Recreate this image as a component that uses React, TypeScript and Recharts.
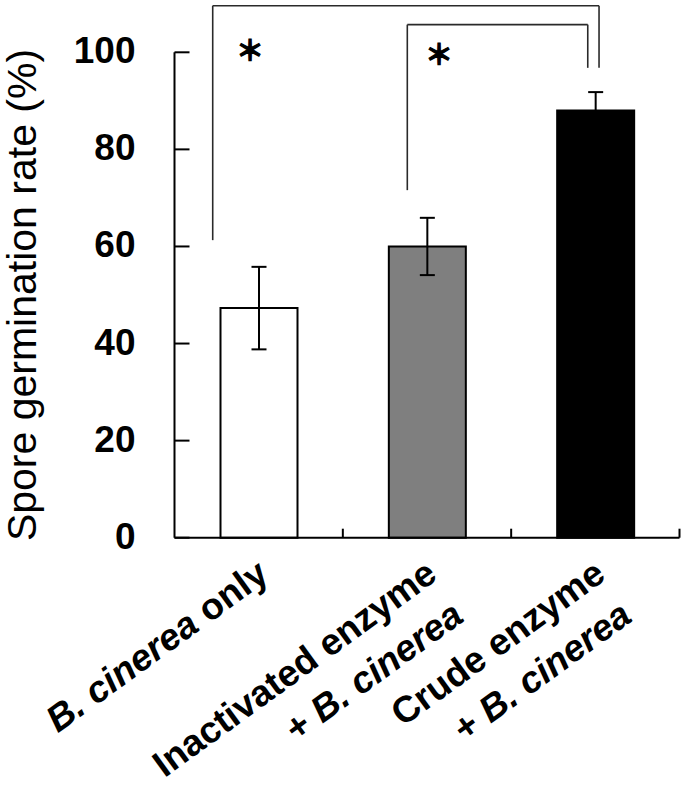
import React from 'react';
import { BarChart, Bar, XAxis, YAxis, ErrorBar, Cell, ReferenceLine, ReferenceDot } from 'recharts';

// ---------- data ----------
const categories = ['B. cinerea only', 'Inactivated enzyme + B. cinerea', 'Crude enzyme + B. cinerea'];
const labelLine1 = ['B. cinerea only', 'Inactivated enzyme', 'Crude enzyme'];
const labelLine2 = ['', '+ B. cinerea', '+ B. cinerea'];
const germinationRate = [47.3, 60.0, 88.0];
const rateError = [8.5, 5.9, 3.8];
const categoryPosition = [0.5, 1.5, 2.5];
const yTicks = [0, 20, 40, 60, 80, 100];
const yAxisTitle = 'Spore germination rate (%)';
const italicPart = 'B. cinerea';

// significance annotations, in (category position, % value) units
const bracketOuter = { xLeft: 0.227, xRight: 2.522, yTop: 109.6, yLeftEnd: 61.3, yRightEnd: 96.8 };
const bracketInner = { xLeft: 1.383, xRight: 2.455, yTop: 105.7, yLeftEnd: 71.6, yRightEnd: 96.8 };
const starLabels = ['*', '*'];
const starX = [0.449, 1.571];
const starY = [100.7, 99.9];

// ---------- styles / layout ----------
const BAR_FILLS = ['#ffffff', '#7f7f7f', '#000000'];
const W = 685;
const H = 785;
const MARGIN = { top: 52.3, right: 5.5, bottom: 7, left: 74.5 };
const Y_AXIS_W = 100;
const PLOT_LEFT = MARGIN.left + Y_AXIS_W;
const PLOT_W = W - PLOT_LEFT - MARGIN.right;
const X_AXIS_H = 240.3;
const FONT = '"Liberation Sans", Arial, Helvetica, sans-serif';

const data = categories.map((name, i) => ({
  name,
  pos: categoryPosition[i],
  value: germinationRate[i],
  err: rateError[i],
}));

const rich = (s: string) => {
  if (!s) return null;
  const parts = s.split(italicPart);
  const out: React.ReactNode[] = [];
  parts.forEach((p, i) => {
    if (p) out.push(<tspan key={'p' + i}>{p}</tspan>);
    if (i < parts.length - 1) out.push(<tspan key={'i' + i} fontStyle="italic">{italicPart}</tspan>);
  });
  return out;
};

const XTick = (props: any) => {
  const { x, y, index } = props;
  const band = PLOT_W / categories.length;
  const bx = x + band / 2;
  return (
    <g>
      <line x1={bx} x2={bx} y1={y} y2={y - 9} stroke="#000" strokeWidth={2} />
      <g transform={`translate(${x + 12},${y + 41}) rotate(-36)`}>
        <text x={0} y={0} textAnchor="end" fontFamily={FONT} fontWeight="bold" fontSize={37} fill="#000">
          {rich(labelLine1[index])}
        </text>
        {labelLine2[index] ? (
          <text x={-3} y={49} textAnchor="end" fontFamily={FONT} fontWeight="bold" fontSize={37} fill="#000">
            {rich(labelLine2[index])}
          </text>
        ) : null}
      </g>
    </g>
  );
};

const YTick = (props: any) => {
  const { y, payload } = props;
  return (
    <g>
      <line x1={PLOT_LEFT} x2={PLOT_LEFT + 15} y1={y} y2={y} stroke="#000" strokeWidth={2} />
      <text x={PLOT_LEFT - 39} y={y + 11} textAnchor="end" fontFamily={FONT} fontWeight="bold" fontSize={37} fill="#000">
        {payload.value}
      </text>
    </g>
  );
};

const YTitle = (props: any) => {
  const vb = props.viewBox || {};
  const cy = vb.y != null && vb.height != null ? vb.y + vb.height / 2 : 295;
  const bx = 36;
  return (
    <text
      x={bx}
      y={cy}
      transform={`rotate(-90, ${bx}, ${cy})`}
      textAnchor="middle"
      fontFamily={FONT}
      fontSize={41}
      fill="#000"
    >
      {yAxisTitle}
    </text>
  );
};

const segStyle = { stroke: '#2a2a2a', strokeWidth: 1.6 };

const Bracket = (b: typeof bracketOuter, key: string) => [
  <ReferenceLine key={key + 'l'} xAxisId="pos" ifOverflow="visible" {...segStyle}
    segment={[{ x: b.xLeft, y: b.yLeftEnd }, { x: b.xLeft, y: b.yTop }]} />,
  <ReferenceLine key={key + 't'} xAxisId="pos" ifOverflow="visible" {...segStyle}
    segment={[{ x: b.xLeft, y: b.yTop }, { x: b.xRight, y: b.yTop }]} />,
  <ReferenceLine key={key + 'r'} xAxisId="pos" ifOverflow="visible" {...segStyle}
    segment={[{ x: b.xRight, y: b.yTop }, { x: b.xRight, y: b.yRightEnd }]} />,
];

export default function App() {
  return (
    <div style={{ position: 'absolute', left: 0, top: 0, width: W, height: H, background: '#fff' }}>
      <BarChart width={W} height={H} data={data} margin={MARGIN}>
        <XAxis
          dataKey="name"
          interval={0}
          tickLine={false}
          tickSize={0}
          tickMargin={0}
          height={X_AXIS_H}
          axisLine={{ stroke: '#000', strokeWidth: 2 }}
          tick={<XTick />}
        />
        <XAxis xAxisId="pos" dataKey="pos" type="number" domain={[0, 3]} allowDataOverflow hide />
        <YAxis
          domain={[0, 100]}
          ticks={yTicks}
          interval={0}
          width={Y_AXIS_W}
          tickLine={false}
          tickSize={0}
          tickMargin={38}
          axisLine={{ stroke: '#000', strokeWidth: 2 }}
          tick={<YTick />}
          label={<YTitle />}
        />
        <Bar dataKey="value" barSize={77} stroke="#000" strokeWidth={2} isAnimationActive={false}>
          {data.map((d, i) => (
            <Cell key={d.name} fill={BAR_FILLS[i]} />
          ))}
          <ErrorBar dataKey="err" direction="y" width={7.5} stroke="#000" strokeWidth={2} isAnimationActive={false} />
        </Bar>
        {Bracket(bracketOuter, 'o')}
        {Bracket(bracketInner, 'i')}
        {starLabels.map((s, i) => (
          <ReferenceDot
            key={'s' + i}
            xAxisId="pos"
            x={starX[i]}
            y={starY[i]}
            r={0}
            ifOverflow="visible"
            shape={(p: any) => (
              <text
                x={p.cx}
                y={p.cy}
                textAnchor="middle"
                dominantBaseline="central"
                fontFamily='"Noto Sans CJK JP", sans-serif'
                fontWeight="bold"
                fontSize={28}
                fill="#000"
                stroke="#000"
                strokeWidth={1.2}
              >
                {'＊'}
              </text>
            )}
          />
        ))}
      </BarChart>
    </div>
  );
}
